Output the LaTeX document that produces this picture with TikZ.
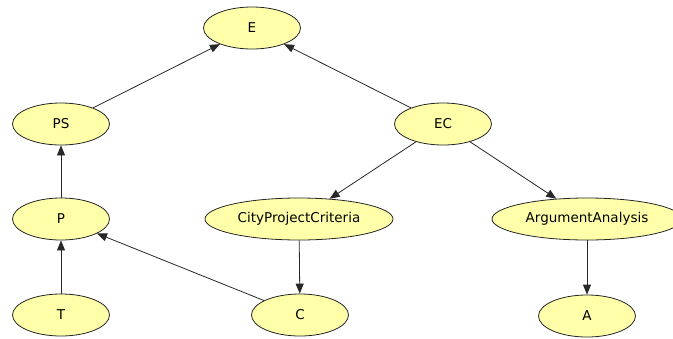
\documentclass[tikz,border=0pt]{standalone}
\usepackage{fontspec}
\setmainfont{DejaVu Sans}
\usetikzlibrary{shapes.geometric,arrows.meta}
\definecolor{nodefill}{RGB}{255,255,170}
\definecolor{edgecol}{RGB}{40,40,40}
\tikzset{
  nd/.style={ellipse, draw=black!85, line width=0.8pt, fill=nodefill, inner sep=0pt,
    minimum height=42pt, font=\fontsize{13.5pt}{15pt}\selectfont},
  ed/.style={draw=edgecol, line width=0.8pt, -{Triangle[length=10pt,width=8pt]}}
}
\begin{document}
\begin{tikzpicture}[x=1pt,y=-1pt]
\useasboundingbox (0,0) rectangle (673,338);
\clip (0,0) rectangle (673,338);
\fill[white] (0,0) rectangle (673,338);
\node[nd, minimum width=97pt] (E) at (252,28) {E};
\node[nd, minimum width=97pt] (PS) at (61,124) {PS};
\node[nd, minimum width=97pt] (EC) at (443,124) {EC};
\node[nd, minimum width=97pt] (P) at (61,219) {P};
\node[nd, minimum width=188pt] (CPC) at (299,219) {CityProjectCriteria};
\node[nd, minimum width=190pt] (AA) at (587,219) {ArgumentAnalysis};
\node[nd, minimum width=97pt] (T) at (61,315) {T};
\node[nd, minimum width=97pt] (C) at (300,315) {C};
\node[nd, minimum width=97pt] (A) at (587,316) {A};
\draw[ed] (PS) -- (E);
\draw[ed] (EC) -- (E);
\draw[ed] (P) -- (PS);
\draw[ed] (T) -- (P);
\draw[ed] (C) -- (P);
\draw[ed] (EC) -- (CPC);
\draw[ed] (EC) -- (AA);
\draw[ed] (CPC) -- (C);
\draw[ed] (AA) -- (A);
\end{tikzpicture}
\end{document}
